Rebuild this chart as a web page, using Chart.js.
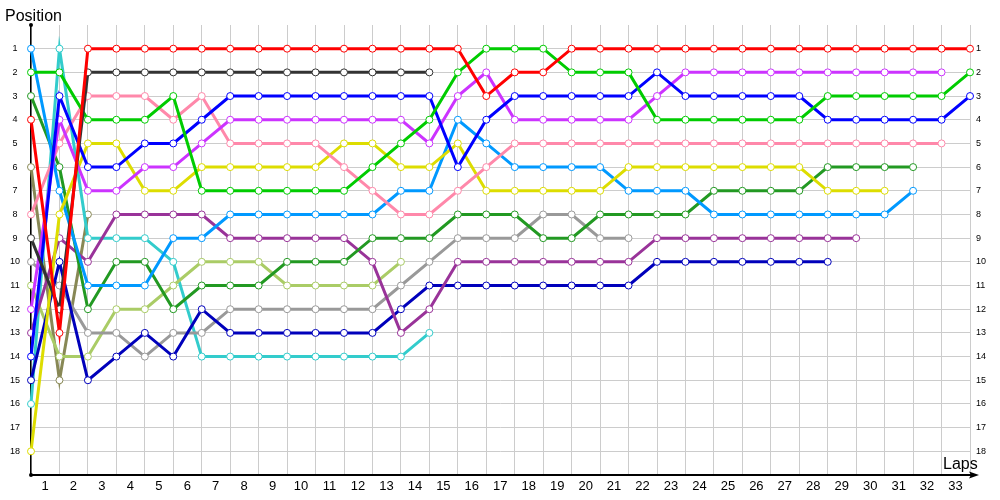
<!DOCTYPE html>
<html>
<head>
<meta charset="utf-8">
<script src="https://cdn.jsdelivr.net/npm/chart.js@4"></script>
<style>
	html, body { margin: 0; padding: 0; background: #fff; }
	#wrap { width: 1000px; height: 500px; position: relative; }
</style>
</head>
<body>
<div id="wrap"><canvas id="chart"></canvas></div>
<script>
// lap 0 is the starting grid
const laps = [0, 1, 2, 3, 4, 5, 6, 7, 8, 9, 10, 11, 12, 13, 14, 15, 16, 17, 18, 19, 20, 21, 22, 23, 24, 25, 26, 27, 28, 29, 30, 31, 32, 33];
const positionTicks = [1, 2, 3, 4, 5, 6, 7, 8, 9, 10, 11, 12, 13, 14, 15, 16, 17, 18];

const red = [4, 13, 1, 1, 1, 1, 1, 1, 1, 1, 1, 1, 1, 1, 1, 1, 3, 2, 2, 1, 1, 1, 1, 1, 1, 1, 1, 1, 1, 1, 1, 1, 1, 1];
const black = [9, 12, 2, 2, 2, 2, 2, 2, 2, 2, 2, 2, 2, 2, 2];
const green = [2, 2, 4, 4, 4, 3, 7, 7, 7, 7, 7, 7, 6, 5, 4, 2, 1, 1, 1, 2, 2, 2, 4, 4, 4, 4, 4, 4, 3, 3, 3, 3, 3, 2];
const blue = [14, 3, 6, 6, 5, 5, 4, 3, 3, 3, 3, 3, 3, 3, 3, 6, 4, 3, 3, 3, 3, 3, 2, 3, 3, 3, 3, 3, 4, 4, 4, 4, 4, 3];
const darkBlue = [15, 10, 15, 14, 13, 14, 12, 13, 13, 13, 13, 13, 13, 12, 11, 11, 11, 11, 11, 11, 11, 11, 10, 10, 10, 10, 10, 10, 10];
const skyBlue = [1, 7, 11, 11, 11, 9, 9, 8, 8, 8, 8, 8, 8, 7, 7, 4, 5, 6, 6, 6, 6, 7, 7, 7, 8, 8, 8, 8, 8, 8, 8, 7];
const magenta = [12, 4, 7, 7, 6, 6, 5, 4, 4, 4, 4, 4, 4, 4, 5, 3, 2, 4, 4, 4, 4, 4, 3, 2, 2, 2, 2, 2, 2, 2, 2, 2, 2];
const pink = [8, 5, 3, 3, 3, 4, 3, 5, 5, 5, 5, 6, 7, 8, 8, 7, 6, 5, 5, 5, 5, 5, 5, 5, 5, 5, 5, 5, 5, 5, 5, 5, 5];
const yellow = [18, 8, 5, 5, 7, 7, 6, 6, 6, 6, 6, 5, 5, 6, 6, 5, 7, 7, 7, 7, 7, 6, 6, 6, 6, 6, 6, 6, 7, 7, 7];
const darkGreen = [3, 6, 12, 10, 10, 12, 11, 11, 11, 10, 10, 10, 9, 9, 9, 8, 8, 8, 9, 9, 8, 8, 8, 8, 7, 7, 7, 7, 6, 6, 6, 6];
const teal = [16, 1, 9, 9, 9, 10, 14, 14, 14, 14, 14, 14, 14, 14, 13];
const purple = [13, 9, 10, 8, 8, 8, 8, 9, 9, 9, 9, 9, 10, 13, 12, 10, 10, 10, 10, 10, 10, 10, 9, 9, 9, 9, 9, 9, 9, 9];
const gray = [10, 11, 13, 13, 14, 13, 13, 12, 12, 12, 12, 12, 12, 11, 10, 9, 9, 9, 8, 8, 9, 9];
const lightGreen = [11, 14, 14, 12, 12, 11, 10, 10, 10, 11, 11, 11, 11, 10];
const olive = [6, 15, 8];

function series(positions, color) {
	return {
		data: positions.map((p, i) => ({ x: laps[i], y: p })),
		borderColor: color,
		backgroundColor: "#ffffff",
		borderWidth: 3,
		pointRadius: 3.5,
		pointBorderWidth: 1,
		pointBorderColor: color,
		pointBackgroundColor: "#ffffff",
		tension: 0,
		clip: false
	};
}

let datasets = [
	series(red, "#ff0000"),
	series(black, "#333333"),
	series(green, "#00cc00"),
	series(blue, "#0000ff"),
	series(magenta, "#cc33ff"),
	series(pink, "#ff88aa"),
	series(yellow, "#dddd00"),
	series(skyBlue, "#0099ff"),
	series(darkGreen, "#229922"),
	series(purple, "#993399"),
	series(darkBlue, "#0000bb"),
	series(gray, "#999999"),
	series(lightGreen, "#aacc66"),
	series(teal, "#33cccc"),
	series(olive, "#888855")
];

// axis decorations: titles, arrow and end dots
const decorations = {
	id: "decorations",
	afterDraw(chart) {
		let ctx = chart.ctx;
		let area = chart.chartArea;
		ctx.save();
		ctx.fillStyle = "#000";
		ctx.font = "16px 'Liberation Sans'";
		ctx.textBaseline = "alphabetic";
		ctx.fillText("Position", 5, 21);
		ctx.fillText("Laps", area.right - 27, area.bottom - 6);

		ctx.strokeStyle = "#000";
		ctx.lineWidth = 2;
		ctx.beginPath();
		ctx.moveTo(area.right, area.bottom);
		ctx.lineTo(area.right + 4, area.bottom);
		ctx.stroke();
		ctx.beginPath();
		ctx.moveTo(area.right + 9, area.bottom);
		ctx.lineTo(area.right - 1, area.bottom - 3.5);
		ctx.lineTo(area.right + 1, area.bottom);
		ctx.lineTo(area.right - 1, area.bottom + 3.5);
		ctx.closePath();
		ctx.fill();

		ctx.beginPath();
		ctx.arc(area.left, area.top, 2, 0, Math.PI * 2);
		ctx.arc(area.left, area.bottom, 2, 0, Math.PI * 2);
		ctx.fill();
		ctx.restore();
	}
};

const posLabel = (v) => positionTicks.includes(v) ? String(v) : "";

let ctx = document.getElementById("chart").getContext("2d");
let chart = new Chart(ctx, {
	type: "line",
	data: { datasets: datasets },
	plugins: [decorations],
	options: {
		responsive: true,
		maintainAspectRatio: false,
		animation: false,
		layout: { padding: { top: 25 } },
		plugins: {
			legend: { display: false },
			tooltip: { enabled: false }
		},
		scales: {
			x: {
				type: "linear",
				position: "bottom",
				min: 0,
				max: 33,
				afterFit: (s) => { s.height = 25; },
				ticks: {
					stepSize: 1,
					autoSkip: false,
					maxRotation: 0,
					labelOffset: 14,
					padding: 4,
					color: "#000",
					font: { family: "'Liberation Sans'", size: 13 },
					callback: (v) => v < 33 ? String(v + 1) : ""
				},
				grid: { color: "#cccccc", drawTicks: false },
				border: { color: "#000", width: 2 }
			},
			y: {
				position: "left",
				reverse: true,
				min: 0,
				max: 19,
				afterFit: (s) => { s.width = 31; },
				ticks: {
					stepSize: 1,
					autoSkip: false,
					crossAlign: "center",
					padding: 11,
					color: "#000",
					font: { family: "'Liberation Sans'", size: 9 },
					callback: posLabel
				},
				grid: {
					drawTicks: false,
					color: (c) => positionTicks.includes(c.tick.value) ? "#cccccc" : "rgba(0,0,0,0)"
				},
				border: { color: "#000", width: 1.5 }
			},
			y2: {
				position: "right",
				reverse: true,
				min: 0,
				max: 19,
				afterFit: (s) => { s.width = 30; },
				ticks: {
					stepSize: 1,
					autoSkip: false,
					crossAlign: "near",
					padding: 6,
					color: "#000",
					font: { family: "'Liberation Sans'", size: 9 },
					callback: posLabel
				},
				grid: { display: false, drawTicks: false },
				border: { display: false }
			}
		}
	}
});
</script>
</body>
</html>
